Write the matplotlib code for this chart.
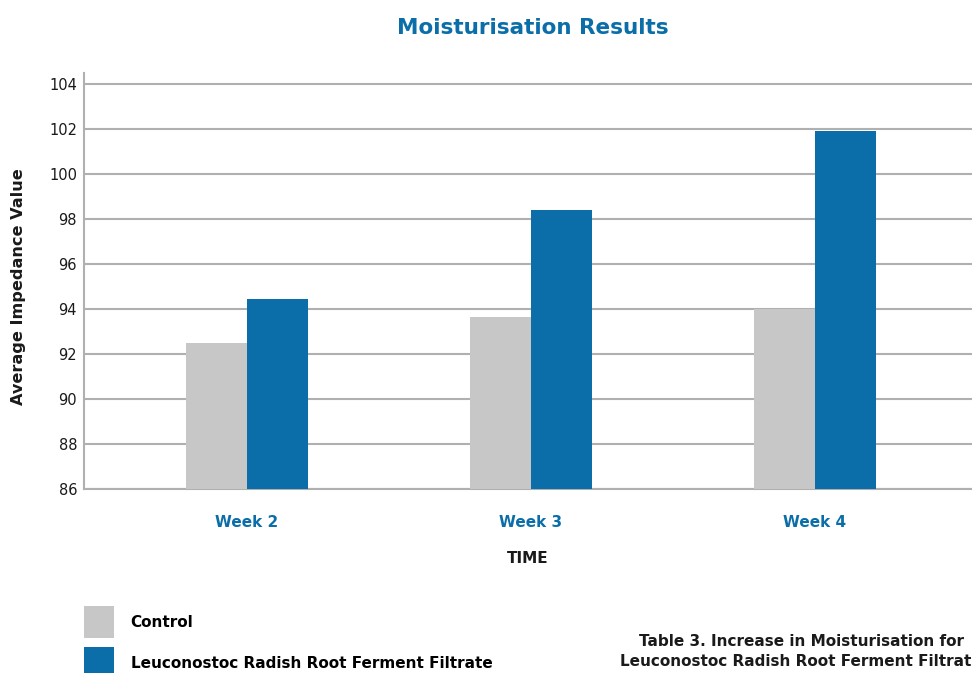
import matplotlib
matplotlib.use("Agg")
import matplotlib.pyplot as plt
import numpy as np
from matplotlib.patches import Patch

categories = ["Week 2", "Week 3", "Week 4"]
control = [92.5, 93.65, 94.0]
filtrate = [94.45, 98.4, 101.9]
yticks = [86, 88, 90, 92, 94, 96, 98, 100, 102, 104]
series_names = ["Control", "Leuconostoc Radish Root Ferment Filtrate"]

GREY = "#c8c7c8"
BLUE = "#0b6ea8"
GRID = "#b0b0b0"
DARK = "#1a1a1a"
FONT = ["DejaVu Sans"]
plt.rcParams["font.family"] = FONT

fig = plt.figure(figsize=(9.72, 6.73), dpi=100)
ax = fig.add_axes([84/972, 1-489/673, 1-84/972, (489-73)/673])

x = np.arange(len(categories))
w = 0.215
ax.bar(x - w/2, control, width=w, color=GREY, zorder=3)
ax.bar(x + w/2, filtrate, width=w, color=BLUE, zorder=3)

ax.set_ylim(86, 104.49)
ax.set_xlim(-0.574, 2.553)
ax.set_yticks(yticks)
ax.set_yticklabels([str(v) for v in yticks], fontsize=10.5, color=DARK)
ax.set_xticks(x)
ax.set_xticklabels(categories, fontsize=11, color=BLUE, fontweight="bold")
ax.tick_params(axis="both", length=0)
ax.tick_params(axis="x", pad=19)
ax.tick_params(axis="y", pad=5)
ax.grid(axis="y", color=GRID, linewidth=1.5, zorder=0)
ax.set_axisbelow(True)
for s in ["top", "right"]:
    ax.spines[s].set_visible(False)
for s in ["left", "bottom"]:
    ax.spines[s].set_color(GRID)
    ax.spines[s].set_linewidth(1.5)

ax.set_ylabel("Average Impedance Value", fontsize=11.6, fontweight="bold", color=DARK)
ax.yaxis.set_label_coords(-0.0655, 0.486)
ax.set_xlabel("TIME", fontsize=11, fontweight="bold", color=DARK, labelpad=15)

fig.text(533/972, 1-28/673, "Moisturisation Results", ha="center", va="center",
         fontsize=15.5, fontweight="bold", color=BLUE)

handles = [Patch(facecolor=GREY), Patch(facecolor=BLUE)]
fig.legend(handles, series_names, loc="upper left", bbox_to_anchor=(84/972, 1-606/673),
           frameon=False, handlelength=1.95, handleheight=2.85,
           labelspacing=0.6, borderpad=0, borderaxespad=0, handletextpad=1.1,
           prop={"weight": "bold", "size": 11})

fig.text(801/972, 1-641/673, "Table 3. Increase in Moisturisation for", ha="center", va="center",
         fontsize=11, fontweight="bold", color=DARK)
fig.text(801/972, 1-662/673, "Leuconostoc Radish Root Ferment Filtrate", ha="center", va="center",
         fontsize=11, fontweight="bold", color=DARK)

fig.savefig("out.png", dpi=100)
